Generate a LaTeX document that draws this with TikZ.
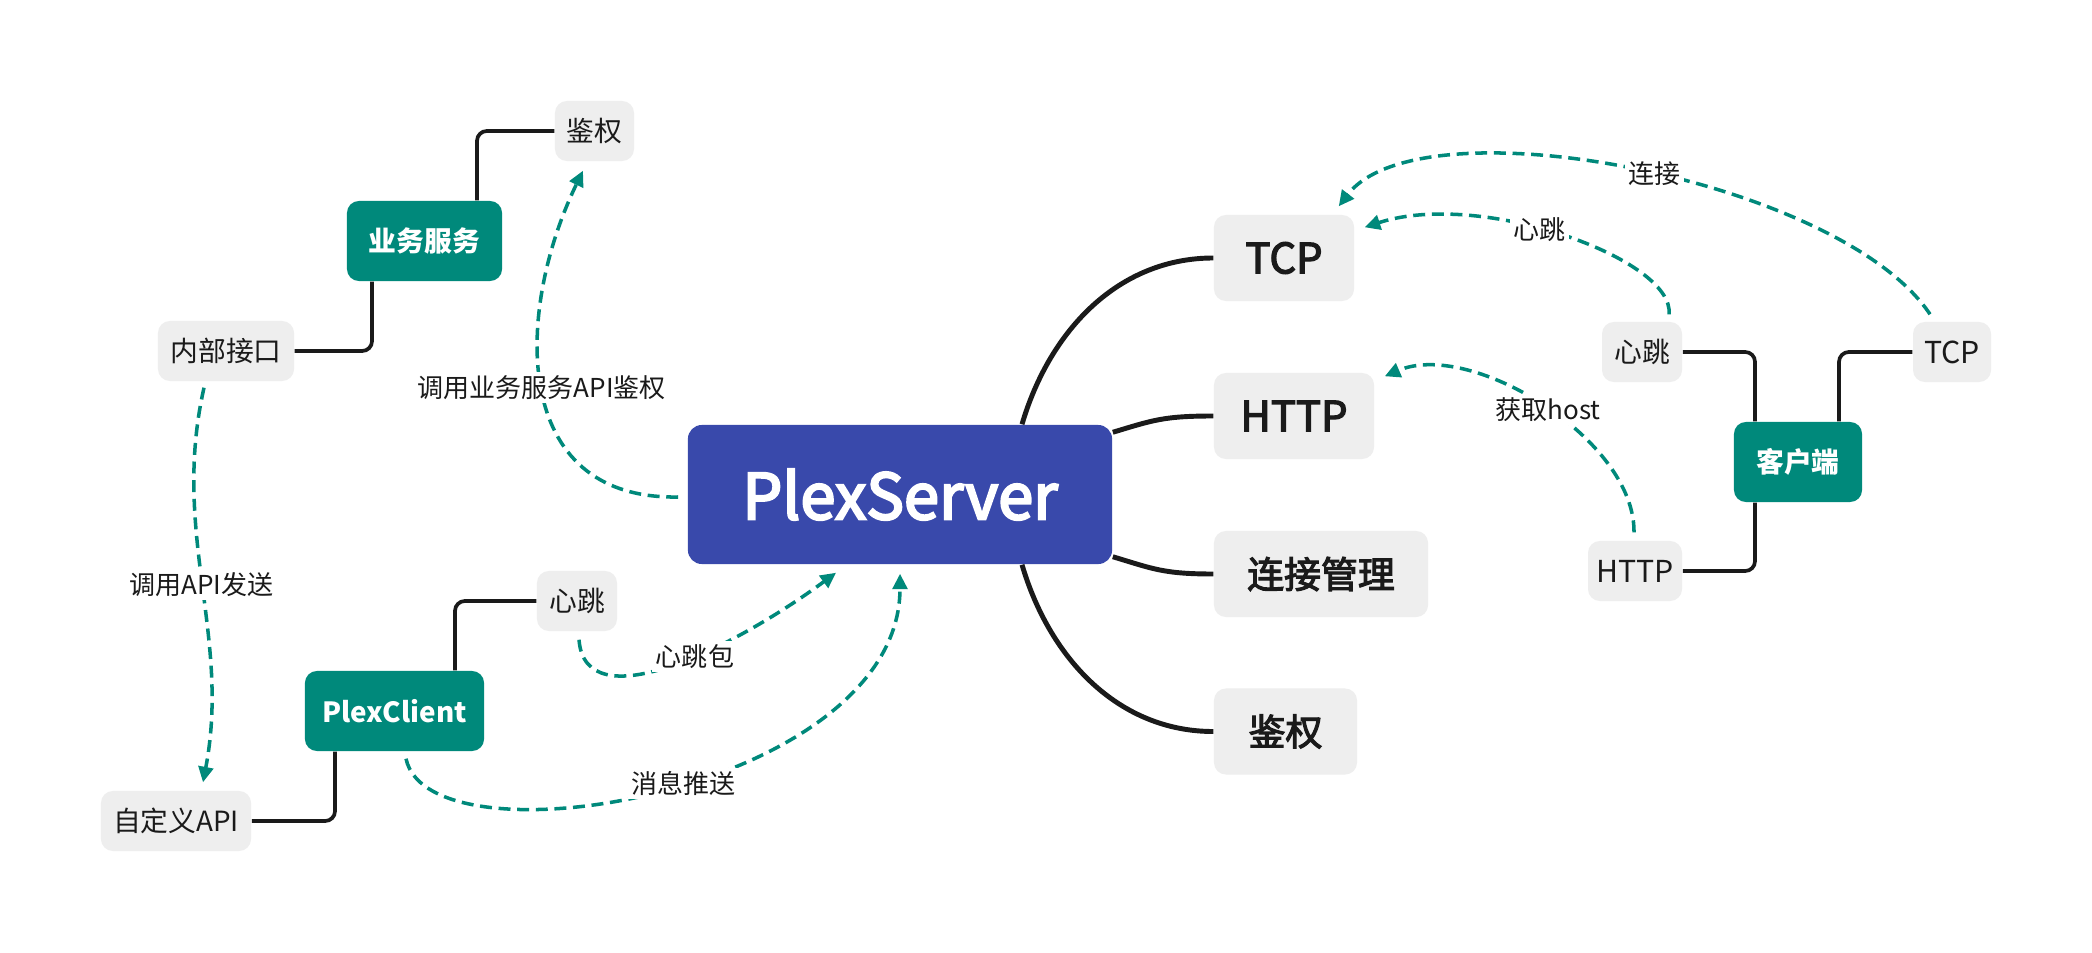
\documentclass[tikz,border=0pt]{standalone}
\usepackage{fontspec}
\setmainfont{Noto Sans CJK SC}
\newfontfamily\medfont{Noto Sans CJK SC}[FakeBold=3]
\newfontfamily\srvfont{Noto Sans CJK SC}[FakeBold=3.5]
\usetikzlibrary{arrows.meta,calc}
\definecolor{srvblue}{HTML}{3949AB}
\definecolor{tealc}{HTML}{00897B}
\definecolor{boxgray}{HTML}{EEEEEE}
\definecolor{ink}{HTML}{1A1A1A}
\tikzset{
  base/.style={rounded corners=3.4pt, inner sep=0pt, align=center, text=ink},
  srvbox/.style={base, rounded corners=4pt, fill=srvblue, text=white, font=\srvfont\fontsize{18}{20}\selectfont},
  mainbox/.style={base, fill=boxgray, font=\medfont\fontsize{10.5}{12}\selectfont, minimum height=0.86cm},
  mainlat/.style={mainbox, font=\medfont\fontsize{11.9}{13}\selectfont},
  grnbox/.style={base, fill=tealc, text=white, font=\fontsize{7.9}{9}\selectfont\bfseries, minimum height=0.80cm},
  smallbox/.style={base, fill=boxgray, font=\fontsize{7.9}{9}\selectfont, minimum height=0.60cm},
  smalllat/.style={smallbox, font=\fontsize{8.6}{10}\selectfont},
  mm/.style={draw=ink, line width=1.4pt},
  elb/.style={draw=ink, line width=1.05pt, rounded corners=2.8pt},
  dsh/.style={draw=tealc, line width=1.0pt, dash pattern=on 3.4pt off 1.9pt, -{Triangle[length=4.4pt,width=4.2pt]}},
  lbl/.style={fill=white, inner sep=1pt, text=ink, font=\fontsize{7.4}{9}\selectfont}
}
\begin{document}
\begin{tikzpicture}[x=0.01cm, y=-0.01cm]
\useasboundingbox[fill=white] (0,0) rectangle (2092,952);

% central node and branches
\node[srvbox, minimum width=4.24cm, minimum height=1.39cm] (srv) at (900,494.5) {PlexServer};
\node[mainlat, minimum width=1.40cm] (tcp) at (1284,258) {TCP};
\node[mainlat, minimum width=1.60cm] (http) at (1294,416) {HTTP};
\node[mainbox, minimum width=2.14cm] (conn) at (1321,574) {连接管理};
\node[mainbox, minimum width=1.43cm] (auth) at (1285.5,731.5) {鉴权};

% left upper cluster
\node[smallbox, minimum width=0.79cm] (lauth) at (594.5,131) {鉴权};
\node[grnbox, minimum width=1.55cm] (biz) at (424.5,241) {业务服务};
\node[smallbox, minimum width=1.36cm] (iface) at (226,351) {内部接口};

% left lower cluster
\node[grnbox, minimum width=1.79cm] (client) at (394.5,711) {PlexClient};
\node[smallbox, minimum width=0.80cm] (lhb) at (577,601) {心跳};
\node[smallbox, minimum width=1.50cm] (capi) at (176,821) {自定义API};

% right cluster
\node[grnbox, minimum width=1.28cm] (cli) at (1798,462) {客户端};
\node[smallbox, minimum width=0.80cm] (rhb) at (1642,352) {心跳};
\node[smalllat, minimum width=0.78cm] (rtcp) at (1952,352) {TCP};
\node[smalllat, minimum width=0.94cm] (rhttp) at (1635,571) {HTTP};

% mind-map curves
\draw[mm] ($(srv.north)+(122,0)$) .. controls +(28,-95) and +(-94,0) .. (tcp.west);
\draw[mm] ($(srv.north east)+(0,8)$) .. controls +(40,-12) and +(-50,0) .. (http.west);
\draw[mm] ($(srv.south east)+(0,-8)$) .. controls +(40,12) and +(-50,0) .. (conn.west);
\draw[mm] ($(srv.south)+(122,0)$) .. controls +(28,95) and +(-94,0) .. (auth.west);

% elbow connectors
\draw[elb] ($(biz.north)+(52.5,0)$) |- (lauth.west);
\draw[elb] (iface.east) -| ($(biz.south)+(-52.5,0)$);
\draw[elb] ($(client.north)+(60.5,0)$) |- (lhb.west);
\draw[elb] ($(client.south)+(-59.5,0)$) |- (capi.east);
\draw[elb] ($(cli.north)+(-43,0)$) |- (rhb.east);
\draw[elb] ($(cli.north)+(41,0)$) |- (rtcp.west);
\draw[elb] ($(cli.south)+(-43,0)$) |- (rhttp.east);

% dashed arrows
\draw[dsh] ($(srv.west)+(-9,2.5)$) .. controls +(-169,3) and +(-68,140) .. node[lbl, pos=0.5] {调用业务服务API鉴权} ($(lauth.south)+(-11.5,9)$);
\draw[dsh] ($(iface.south)+(-22,6)$) .. controls +(-33,146) and +(28,-147) .. node[lbl, pos=0.5] {调用API发送} ($(capi.north)+(27,-8)$);
\draw[dsh] ($(lhb.south)+(2,8)$) .. controls +(6,81) and +(-106,78) .. node[lbl, pos=0.58] {心跳包} ($(srv.south)+(-64,8)$);
\draw[dsh] ($(client.south)+(11.5,7)$) .. controls +(24,112) and +(0,217) .. node[lbl, pos=0.53] {消息推送} ($(srv.south)+(0,9)$);
\draw[dsh] ($(rtcp.north)+(-22,-7)$) .. controls +(-90,-135) and +(82,-107) .. node[lbl, pos=0.47] {连接} ($(tcp.north east)+(-16,-8)$);
\draw[dsh] ($(rhb.north)+(27,-7)$) .. controls +(6,-55) and +(116,-38) .. node[lbl, pos=0.56] {心跳} ($(tcp.north east)+(10,13)$);
\draw[dsh] ($(rhttp.north)+(-1,-8)$) .. controls +(1,-93) and +(86,-37) .. node[lbl, pos=0.48] {获取host} ($(http.north east)+(10,4)$);
\end{tikzpicture}
\end{document}
